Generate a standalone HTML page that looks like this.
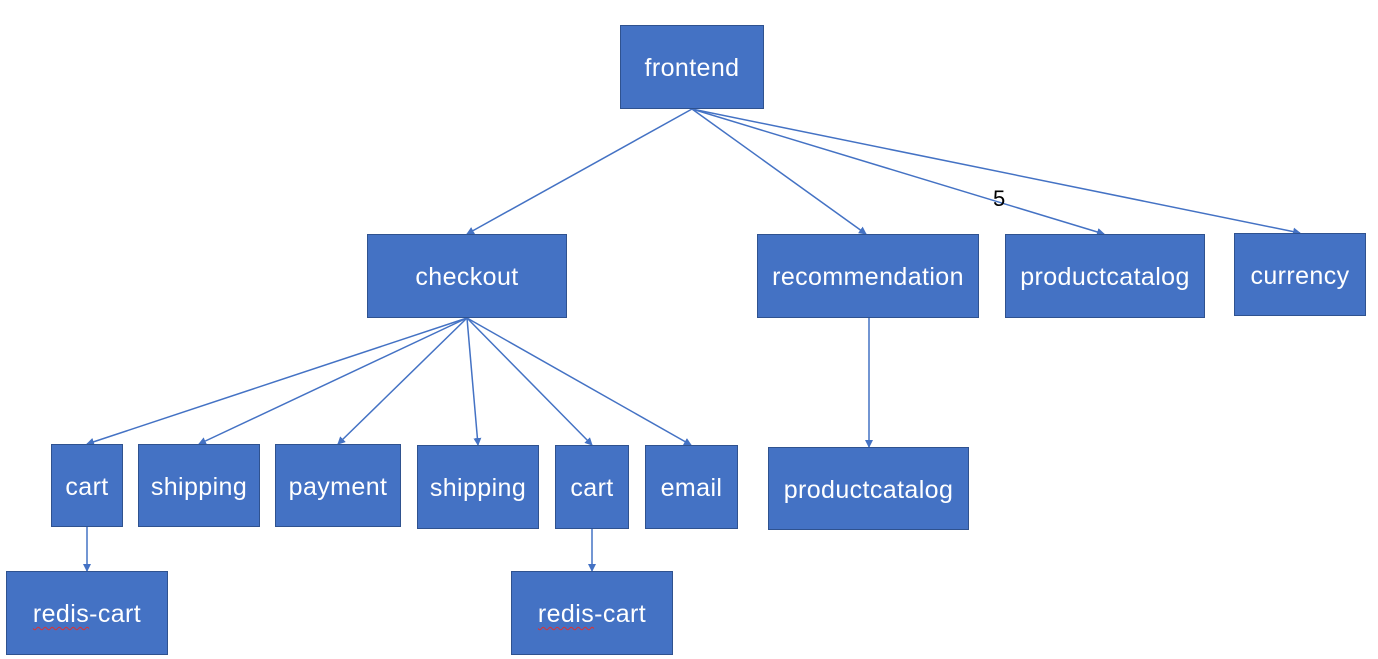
<!DOCTYPE html>
<html><head><style>
body{margin:0;width:1378px;height:659px;background:#fff;position:relative;overflow:hidden;font-family:"Liberation Sans","Noto Sans CJK SC",sans-serif}
.b{position:absolute;background:#4472C4;border:1px solid #2F528F;box-sizing:border-box;color:#fff;font-size:25px;letter-spacing:0.4px;display:flex;align-items:center;justify-content:center;padding-top:3px}
.w{text-decoration:underline wavy #e03030;text-decoration-thickness:1px;text-underline-offset:4px}
svg{position:absolute;left:0;top:0}
</style></head><body>
<svg width="1378" height="659">
<defs><marker id="a" markerWidth="8" markerHeight="8" refX="7" refY="4" orient="auto" markerUnits="userSpaceOnUse"><path d="M0,0 L8,4 L0,8 z" fill="#4472C4"/></marker></defs>
<g stroke="#4472C4" stroke-width="1.5" fill="none" marker-end="url(#a)">
<line x1="692" y1="109" x2="467" y2="234"/>
<line x1="692" y1="109" x2="866" y2="234"/>
<line x1="692" y1="109" x2="1104" y2="234"/>
<line x1="692" y1="109" x2="1300" y2="233"/>
<line x1="467" y1="318" x2="87" y2="444"/>
<line x1="467" y1="318" x2="199" y2="444"/>
<line x1="467" y1="318" x2="338" y2="444"/>
<line x1="467" y1="318" x2="478" y2="445"/>
<line x1="467" y1="318" x2="592" y2="445"/>
<line x1="467" y1="318" x2="691" y2="445"/>
<line x1="869" y1="318" x2="869" y2="447"/>
<line x1="87" y1="527" x2="87" y2="571"/>
<line x1="592" y1="529" x2="592" y2="571"/>
</g>
<text x="993" y="206" font-size="22" fill="#000" font-family="Liberation Sans, sans-serif">5</text>
</svg>
<div class="b" style="left:620px;top:25px;width:144px;height:84px">frontend</div>
<div class="b" style="left:367px;top:234px;width:200px;height:84px">checkout</div>
<div class="b" style="left:757px;top:234px;width:222px;height:84px">recommendation</div>
<div class="b" style="left:1005px;top:234px;width:200px;height:84px">productcatalog</div>
<div class="b" style="left:1234px;top:233px;width:132px;height:83px">currency</div>
<div class="b" style="left:51px;top:444px;width:72px;height:83px">cart</div>
<div class="b" style="left:138px;top:444px;width:122px;height:83px">shipping</div>
<div class="b" style="left:275px;top:444px;width:126px;height:83px">payment</div>
<div class="b" style="left:417px;top:445px;width:122px;height:84px">shipping</div>
<div class="b" style="left:555px;top:445px;width:74px;height:84px">cart</div>
<div class="b" style="left:645px;top:445px;width:93px;height:84px">email</div>
<div class="b" style="left:768px;top:447px;width:201px;height:83px">productcatalog</div>
<div class="b" style="left:6px;top:571px;width:162px;height:84px"><span><span class="w">redis</span>-cart</span></div>
<div class="b" style="left:511px;top:571px;width:162px;height:84px"><span><span class="w">redis</span>-cart</span></div>
</body></html>
